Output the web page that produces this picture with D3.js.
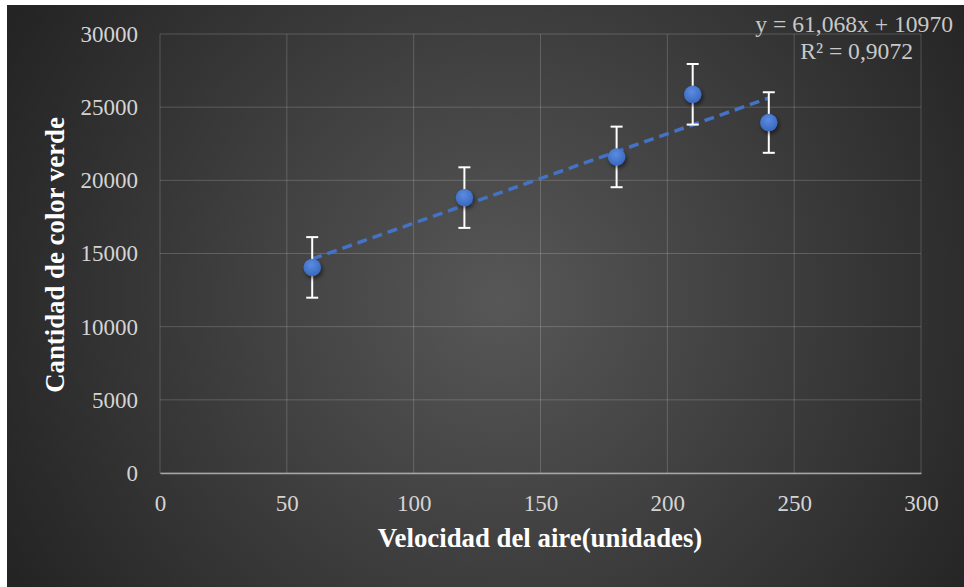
<!DOCTYPE html>
<html>
<head>
<meta charset="utf-8">
<script src="https://cdn.jsdelivr.net/npm/d3@7"></script>
<style>
    body { margin: 0; background: #fff; }
    svg { display: block; }
</style>
</head>
<body>
<svg width="964" height="587"></svg>
<script>
// data
var velocidad = [60, 120, 180, 210, 240];
var verde = [14050, 18820, 21600, 25880, 23950];
var errorBar = [2070, 2070, 2070, 2070, 2070];
var xTicks = [0, 50, 100, 150, 200, 250, 300];
var yTicks = [0, 5000, 10000, 15000, 20000, 25000, 30000];
var trendLabel = ["y = 61,068x + 10970", "R\u00b2 = 0,9072"];

var svg = d3.select("svg");
var width = +svg.attr("width");
var height = +svg.attr("height");
var serif = "'Liberation Serif', 'Times New Roman', serif";

var defs = svg.append("defs");
var bg = defs.append("radialGradient")
    .attr("id", "bg")
    .attr("gradientUnits", "userSpaceOnUse")
    .attr("cx", 500).attr("cy", 300).attr("r", 560);
bg.append("stop").attr("offset", "0%").attr("stop-color", "#575757");
bg.append("stop").attr("offset", "100%").attr("stop-color", "#242424");

var dot = defs.append("radialGradient")
    .attr("id", "dot")
    .attr("cx", "45%").attr("cy", "35%").attr("r", "65%");
dot.append("stop").attr("offset", "0%").attr("stop-color", "#5a8ce0");
dot.append("stop").attr("offset", "100%").attr("stop-color", "#3a68bf");

var shadow = defs.append("filter").attr("id", "shadow")
    .attr("x", "-50%").attr("y", "-50%").attr("width", "200%").attr("height", "200%");
shadow.append("feDropShadow")
    .attr("dx", 1.5).attr("dy", 2.5).attr("stdDeviation", 2)
    .attr("flood-color", "#000").attr("flood-opacity", 0.55);

svg.append("rect")
    .attr("x", 7).attr("y", 5)
    .attr("width", width - 7).attr("height", height - 5)
    .attr("fill", "url(#bg)");

var x = d3.scaleLinear().domain([0, 300]).range([160, 921]);
var y = d3.scaleLinear().domain([0, 30000]).range([473, 34]);

// grid
svg.append("g")
    .selectAll("line")
    .data(xTicks)
    .enter().append("line")
    .attr("x1", function (d) { return x(d); })
    .attr("x2", function (d) { return x(d); })
    .attr("y1", y(30000)).attr("y2", y(0))
    .attr("stroke", "#ffffff").attr("stroke-opacity", 0.18).attr("stroke-width", 1);

svg.append("g")
    .selectAll("line")
    .data(yTicks)
    .enter().append("line")
    .attr("x1", x(0)).attr("x2", x(300))
    .attr("y1", function (d) { return y(d); })
    .attr("y2", function (d) { return y(d); })
    .attr("stroke", "#ffffff").attr("stroke-opacity", 0.18).attr("stroke-width", 1);

// axes
var xAxis = svg.append("g")
    .attr("transform", "translate(0," + y(0) + ")")
    .call(d3.axisBottom(x).tickValues(xTicks).tickFormat(d3.format("d")).tickSize(0).tickPadding(22));
xAxis.select(".domain").attr("stroke", "#a6a6a6").attr("stroke-width", 1.5);

var yAxis = svg.append("g")
    .attr("transform", "translate(" + x(0) + ",0)")
    .call(d3.axisLeft(y).tickValues(yTicks).tickFormat(d3.format("d")).tickSize(0).tickPadding(22));
yAxis.select(".domain").remove();

svg.selectAll(".tick text")
    .attr("fill", "#d4d4d4")
    .style("font-family", serif)
    .style("font-size", "23px");

// titles
svg.append("text")
    .attr("x", 540).attr("y", 547)
    .attr("text-anchor", "middle")
    .attr("fill", "#ffffff")
    .style("font-family", serif)
    .style("font-size", "26.8px").style("font-weight", "bold")
    .text("Velocidad del aire(unidades)");

svg.append("text")
    .attr("transform", "translate(64,255) rotate(-90)")
    .attr("text-anchor", "middle")
    .attr("fill", "#ffffff")
    .style("font-family", serif)
    .style("font-size", "26.8px").style("font-weight", "bold")
    .text("Cantidad de color verde");

// linear trend
var mx = d3.mean(velocidad), my = d3.mean(verde);
var sxy = d3.sum(velocidad, function (v, i) { return (v - mx) * (verde[i] - my); });
var sxx = d3.sum(velocidad, function (v) { return (v - mx) * (v - mx); });
var slope = sxy / sxx;
var intercept = my - slope * mx;
var xExt = d3.extent(velocidad);

svg.append("path")
    .datum(xExt)
    .attr("d", d3.line()
        .x(function (d) { return x(d); })
        .y(function (d) { return y(slope * d + intercept); }))
    .attr("fill", "none")
    .attr("stroke", "#4472c4")
    .attr("stroke-width", 3.5)
    .attr("stroke-dasharray", "10,6");

// error bars
var pts = velocidad.map(function (v, i) { return { x: v, y: verde[i], e: errorBar[i] }; });
var err = svg.append("g").attr("stroke", "#ffffff").attr("stroke-width", 2);
err.selectAll("line.v")
    .data(pts)
    .enter().append("line")
    .attr("x1", function (d) { return x(d.x); })
    .attr("x2", function (d) { return x(d.x); })
    .attr("y1", function (d) { return y(d.y + d.e); })
    .attr("y2", function (d) { return y(d.y - d.e); });
[1, -1].forEach(function (s) {
    err.selectAll(null)
        .data(pts)
        .enter().append("line")
        .attr("x1", function (d) { return x(d.x) - 6; })
        .attr("x2", function (d) { return x(d.x) + 6; })
        .attr("y1", function (d) { return y(d.y + s * d.e); })
        .attr("y2", function (d) { return y(d.y + s * d.e); });
});

// points
svg.append("g")
    .selectAll("circle")
    .data(pts)
    .enter().append("circle")
    .attr("cx", function (d) { return x(d.x); })
    .attr("cy", function (d) { return y(d.y); })
    .attr("r", 8.7)
    .attr("fill", "url(#dot)")
    .attr("filter", "url(#shadow)");

// trend label
svg.append("g")
    .selectAll("text")
    .data(trendLabel)
    .enter().append("text")
    .attr("x", 953)
    .attr("y", function (d, i) { return 32 + i * 26.5; })
    .attr("dx", function (d, i) { return i ? -40 : 0; })
    .attr("text-anchor", "end")
    .attr("fill", "#c8c8c8")
    .style("font-family", serif)
    .style("font-size", "23.6px")
    .text(function (d) { return d; });
</script>
</body>
</html>
